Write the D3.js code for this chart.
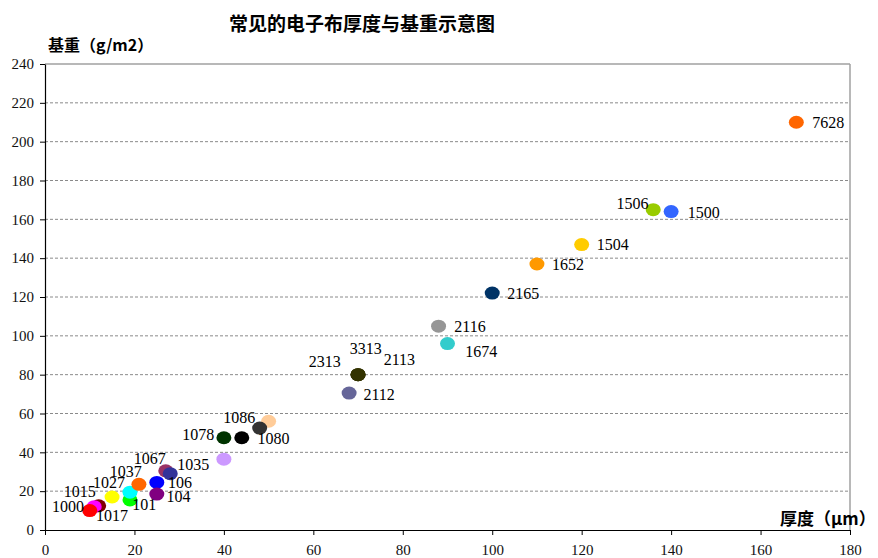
<!DOCTYPE html>
<html>
<head>
<meta charset="utf-8">
<script src="https://cdn.jsdelivr.net/npm/d3@7"></script>
<style>
  body { margin: 0; background: #fff; }
  svg { display: block; }
</style>
</head>
<body>
<script>
// fabric style, thickness (um), basis weight (g/m2), marker colour - in drawing order
const names     = ["1015", "1017", "1000", "1027", "101", "1037", "", "106", "104", "1067", "1035",
                   "", "1078", "1080", "", "1086", "2313", "3313", "2113", "2112", "2116", "1674",
                   "2165", "1652", "1504", "1506", "1500", "7628"];
const thickness = [12, 11, 10, 15, 19, 19, 21, 25, 25, 27, 28,
                   40, 40, 44, 50, 48, 70, 70, 70, 68, 88, 90,
                   100, 110, 120, 136, 140, 168];
const weights   = [12.5, 12, 10, 17, 15.5, 19.5, 23.5, 24.5, 18.5, 30.5, 29,
                   36.5, 47.5, 47.5, 56, 52.5, 80, 80, 80, 70.5, 105, 96,
                   122, 137, 147, 165, 164, 210];
const colors    = ["#800000", "#FF00FF", "#FF0000", "#FFFF00", "#00FF00", "#00FFFF", "#FF6600", "#0000FF", "#800080", "#993366", "#333399",
                   "#CC99FF", "#003300", "#000000", "#FFCC99", "#333333", "#333300", "#333300", "#333300", "#666699", "#969696", "#33CCCC",
                   "#003366", "#FF9900", "#FFCC00", "#99CC00", "#3366FF", "#FF6600"];

const xTicks = [0, 20, 40, 60, 80, 100, 120, 140, 160, 180];
const yTicks = [0, 20, 40, 60, 80, 100, 120, 140, 160, 180, 200, 220, 240];

const title  = "常见的电子布厚度与基重示意图";
const xTitle = "厚度（µm）";
const yTitle = "基重（g/m2）";

// where each data label sits relative to its marker (px, text baseline start)
const labelOffset = {
  "1000": [-37.6, 1],   "1015": [-35, -9],   "1017": [1.7, 14.3], "1027": [-19, -9.3],
  "101":  [2.4, 10],    "1037": [-20.3, -15.6], "106": [11.3, 6], "104": [9.7, 7.7],
  "1067": [-32, -6.7],  "1035": [7, -3.3],   "1078": [-41.7, 2.3], "1080": [15.6, 6.3],
  "1086": [-36.3, -5],  "2313": [-49.4, -7.6], "3313": [-8.4, -21], "2113": [25.6, -9.3],
  "2112": [14.3, 6.7],  "2116": [15.7, 6],   "1674": [17.7, 13.4], "2165": [15, 5.7],
  "1652": [15, 5.7],    "1504": [15, 5.7],   "1506": [-36.6, -0.7], "1500": [16.7, 6],
  "7628": [16, 5.6]
};

const data = names.map((n, i) => ({name: n, t: thickness[i], w: weights[i], c: colors[i]}));

const W = 878, H = 558;
const dims = {left: 45, right: 850, top: 64, bottom: 530};
const numFont = "'Liberation Serif', 'DejaVu Serif', serif";
const cjkFont = "'Noto Sans CJK SC', 'Noto Sans', sans-serif";

const svg = d3.select("body").append("svg")
    .attr("width", W)
    .attr("height", H);

const x = d3.scaleLinear().domain([0, 180]).range([dims.left, dims.right]);
const y = d3.scaleLinear().domain([0, 240]).range([dims.bottom, dims.top]);

// dashed grid lines
svg.append("g")
  .selectAll("line")
  .data(yTicks.filter(v => v > 0 && v < 240))
  .enter().append("line")
    .attr("x1", dims.left).attr("x2", dims.right)
    .attr("y1", d => y(d)).attr("y2", d => y(d))
    .style("stroke", "#8a8a8a")
    .style("stroke-width", 1)
    .style("stroke-dasharray", "3,2");

// plot frame top / right
svg.append("line")
    .attr("x1", dims.left).attr("x2", dims.right)
    .attr("y1", dims.top).attr("y2", dims.top)
    .style("stroke", "#a0a0a0").style("stroke-width", 1.5);
svg.append("line")
    .attr("x1", dims.right).attr("x2", dims.right)
    .attr("y1", dims.top).attr("y2", dims.bottom)
    .style("stroke", "#a0a0a0").style("stroke-width", 1.5);

// axes
const gy = svg.append("g")
    .attr("transform", "translate(" + dims.left + ",0)")
    .call(d3.axisLeft(y).tickValues(yTicks).tickSize(5).tickSizeOuter(0).tickPadding(6));
const gx = svg.append("g")
    .attr("transform", "translate(0," + dims.bottom + ")")
    .call(d3.axisBottom(x).tickValues(xTicks).tickSize(5).tickSizeOuter(0).tickPadding(9.5));

[gy, gx].forEach(g => {
  g.select(".domain").style("stroke", "#000").style("stroke-width", 1.2);
  g.selectAll(".tick line").style("stroke", "#000");
  g.selectAll(".tick text")
    .style("font-family", numFont)
    .style("font-size", "15px")
    .style("fill", "#111");
});

// markers
svg.append("g")
  .selectAll("ellipse")
  .data(data)
  .enter().append("ellipse")
    .attr("cx", d => x(d.t))
    .attr("cy", d => y(d.w))
    .attr("rx", 7.5)
    .attr("ry", 6.5)
    .style("fill", d => d.c);

// data labels
svg.append("g")
  .selectAll("text")
  .data(data.filter(d => d.name !== ""))
  .enter().append("text")
    .attr("x", d => x(d.t) + labelOffset[d.name][0])
    .attr("y", d => y(d.w) + labelOffset[d.name][1])
    .text(d => d.name)
    .style("font-family", numFont)
    .style("font-size", "16px")
    .style("fill", "#000");

// titles
svg.append("text")
    .attr("x", 362).attr("y", 31)
    .attr("text-anchor", "middle")
    .text(title)
    .style("font-family", cjkFont)
    .style("font-weight", "bold")
    .style("font-size", "19px");

svg.append("text")
    .attr("x", 48).attr("y", 51)
    .text(yTitle)
    .style("font-family", cjkFont)
    .style("font-weight", "bold")
    .style("font-size", "16px");

svg.append("text")
    .attr("x", 780).attr("y", 525)
    .text(xTitle)
    .style("font-family", cjkFont)
    .style("font-weight", "bold")
    .style("font-size", "17px");
</script>
</body>
</html>
